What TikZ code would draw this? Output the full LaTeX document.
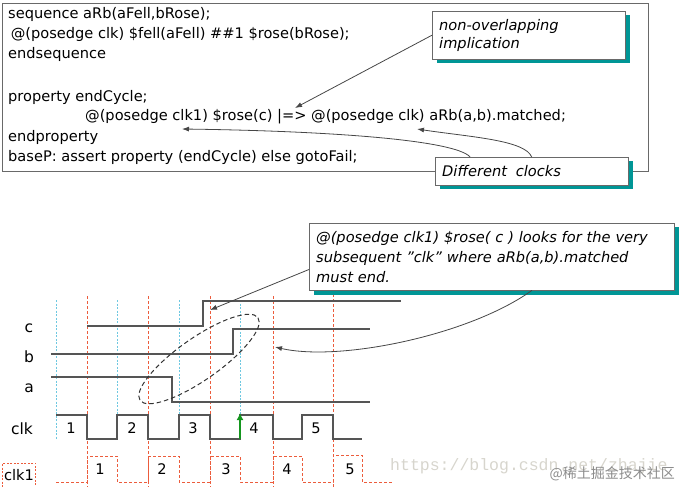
\documentclass[tikz,border=0pt]{standalone}
\usepackage{fontspec}
\setmainfont{DejaVu Sans}
\newfontfamily\urlfont{Liberation Mono}
\newfontfamily\cjk{Noto Sans CJK SC}
\usetikzlibrary{arrows.meta,shadows}
\definecolor{ink}{RGB}{70,70,70}
\definecolor{frame}{RGB}{105,105,105}
\definecolor{sig}{RGB}{85,85,85}
\definecolor{tealshade}{RGB}{0,150,150}
\definecolor{clkred}{RGB}{236,92,60}
\definecolor{clkblue}{RGB}{110,200,225}
\definecolor{upgreen}{RGB}{20,150,30}
\definecolor{mark}{RGB}{215,213,205}
\definecolor{markdark}{RGB}{140,140,140}

\begin{document}
\begin{tikzpicture}[x=1pt,y=-1pt,
  codeline/.style={anchor=west,inner sep=0pt,text height=11pt,text depth=3pt,font=\fontsize{14.6}{20}\selectfont},
  note/.style={draw=frame,fill=white,anchor=north west,align=left,inner xsep=7pt,inner ysep=0pt,font=\itshape\fontsize{14.6}{18}\selectfont,drop shadow={shadow xshift=5pt,shadow yshift=-4pt,fill=tealshade,opacity=1}},
  arrow/.style={-{Latex[length=7pt,width=5pt]},draw=ink,line width=0.8pt},
  wire/.style={draw=sig,line width=1.2pt},
  redguide/.style={draw=clkred,dash pattern=on 3pt off 2pt,line width=0.9pt},
  blueguide/.style={draw=clkblue,dash pattern=on 2pt off 1.5pt,line width=0.9pt},
  siglabel/.style={inner sep=0pt,font=\fontsize{15.5}{15.5}\selectfont},
  num/.style={inner sep=0pt,font=\fontsize{14.6}{14.6}\selectfont}]
\useasboundingbox (0,0) rectangle (680,487);

% code listing
\node[draw=frame,line width=1pt,anchor=north west,minimum width=646pt,minimum height=168pt,inner sep=0pt] (code) at (2,3) {};
\node[codeline] (seq) at (8,15) {sequence aRb(aFell,bRose);};
\node[codeline] (seqbody) at (6,35) {\ @(posedge clk) \$fell(aFell) \#\#1 \$rose(bRose);};
\node[codeline] (endseq) at (8,55) {endsequence};
\node[codeline] (prop) at (8,97) {property endCycle;};
\node[codeline] (propbody) at (85,117) {@(posedge clk1) \$rose(c) |=> @(posedge clk) aRb(a,b).matched;};
\node[codeline] (endprop) at (8,137) {endproperty};
\node[codeline] (assert) at (8,157) {baseP: assert property (endCycle) else gotoFail;};
\coordinate (impl) at (295,108);
\coordinate (clkone) at (182,129);
\coordinate (clkzero) at (417,129);

\node[note,text width=179pt,minimum height=48pt] (nonov) at (432,11) {non-overlapping\\implication};
\node[note,text width=179pt,minimum height=28pt] (diff) at (435,157) {Different\hspace{4pt} clocks};
\draw[arrow] (nonov.west) -- (impl);
\draw[arrow] (diff.167) .. controls (455,140) and (330,131) .. (clkone);
\draw[arrow] (diff.north) .. controls (525,140) and (470,137) .. (clkzero);

% timing guides
\draw[blueguide] (56,300) -- (56,440);
\draw[blueguide] (117,300) -- (117,440);
\draw[blueguide] (179,300) -- (179,440);
\draw[blueguide] (240,300) -- (240,440);
\draw[redguide] (87,296) -- (87,487);
\draw[redguide] (148,296) -- (148,487);
\draw[redguide] (210,296) -- (210,487);
\draw[redguide] (273,296) -- (273,487);
\draw[redguide] (333,294) -- (333,487);

% signals
\node[siglabel] (lc) at (29,328) {c};
\node[siglabel] (lb) at (29,357) {b};
\node[siglabel] (la) at (29,388) {a};
\node[siglabel] (lclk) at (22,429) {clk};
\node[draw=clkred,dash pattern=on 2pt off 1.5pt,line width=0.8pt,minimum width=33pt,minimum height=24pt,inner sep=0pt,font=\fontsize{14.6}{14.6}\selectfont] (lclkone) at (19,475) {clk1};
\draw[wire] (87,326) -- (203,326) -- (203,301) -- (401,301);
\draw[wire] (51,354) -- (233,354) -- (233,329) -- (370,329);
\draw[wire] (51,377) -- (172,377) -- (172,402) -- (370,402);
\draw[wire] (56,415) -- (87,415) -- (87,439) -- (117,439) -- (117,415) -- (148,415) -- (148,439) -- (179,439) -- (179,415) -- (210,415) -- (210,439) -- (240,439) -- (240,415) -- (273,415) -- (273,439) -- (302,439) -- (302,415) -- (333,415) -- (333,439) -- (362,439);
\draw[redguide] (56,482) -- (87,482) -- (87,456) -- (117,456) -- (117,482) -- (148,482) -- (148,456) -- (179,456) -- (179,482) -- (210,482) -- (210,456) -- (240,456) -- (240,482) -- (273,482) -- (273,456) -- (302,456) -- (302,482) -- (333,482) -- (333,455) -- (362,455) -- (362,482) -- (392,482);
\node[num] (k1) at (71,428) {1};
\node[num] (k2) at (132,428) {2};
\node[num] (k3) at (193,428) {3};
\node[num] (k4) at (254,428) {4};
\node[num] (k5) at (316,428) {5};
\node[num] (m1) at (100,469) {1};
\node[num] (m2) at (162,469) {2};
\node[num] (m3) at (226,469) {3};
\node[num] (m4) at (287,469) {4};
\node[num] (m5) at (350,469) {5};
\coordinate (edgelow) at (240,439);
\coordinate (edgehigh) at (240,413);
\draw[-{Latex[length=7pt,width=7pt]},draw=upgreen,line width=2.5pt] (edgelow) -- (edgehigh);
\draw[draw=black!80,dash pattern=on 4.5pt off 3pt,line width=1pt,rotate around={35:(199,359)}] (199,359) ellipse [x radius=72, y radius=21];

% callout
\node[note,text width=351pt,minimum height=67pt,font=\itshape\fontsize{14.6}{20}\selectfont,drop shadow={shadow xshift=4.5pt,shadow yshift=-5pt,fill=tealshade,opacity=1}] (callout) at (309,223) {@(posedge clk1) \$rose( c ) looks for the very\\subsequent \symbol{34}clk\symbol{34} where aRb(a,b).matched\\must end.};
\coordinate (crise) at (210,310);
\coordinate (cend) at (275,347);
\draw[arrow] (callout.184) -- (crise);
\draw[arrow] (callout.320) .. controls (470,335) and (340,362) .. (cend);

% watermark
\node[anchor=west,inner sep=0pt,text=mark,font=\urlfont\fontsize{16.5}{16.5}\selectfont] (url) at (390,466) {https://blog.csdn.net/zhajie};
\node[anchor=east,inner sep=0pt,text=markdark,font=\cjk\fontsize{14}{14}\selectfont] (site) at (675,474) {@稀土掘金技术社区};
\end{tikzpicture}
\end{document}
